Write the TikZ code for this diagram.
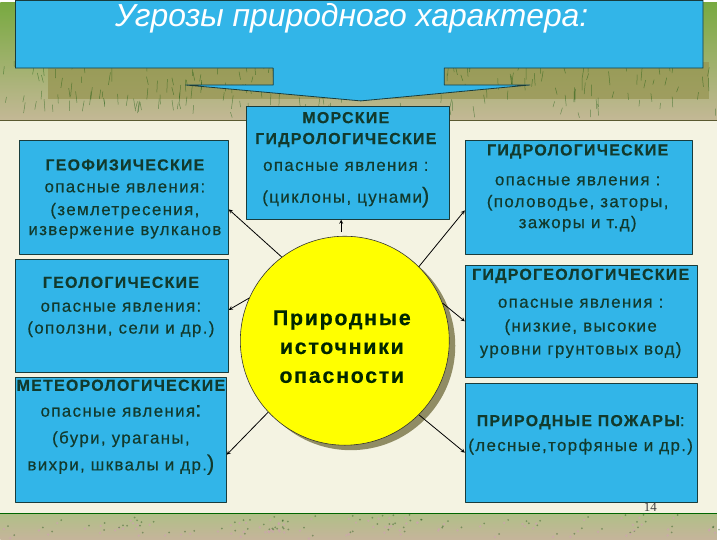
\documentclass[tikz,border=0pt]{standalone}
\usepackage{fontspec}
\setmainfont{Liberation Sans}
\newfontfamily\boxfont{Liberation Sans}[LetterSpace=8,FakeBold=0.4]
\newfontfamily\numfont{Liberation Serif}
\definecolor{boxblue}{RGB}{50,181,232}
\definecolor{boxline}{RGB}{25,60,60}
\definecolor{txtgreen}{RGB}{18,58,45}
\definecolor{cream}{RGB}{244,243,226}
\definecolor{grassdark}{RGB}{150,148,80}
\definecolor{grasslight}{RGB}{196,184,150}
\definecolor{grasspink}{RGB}{205,165,175}
\definecolor{sunyellow}{RGB}{255,255,0}
\newcommand{\capsline}[1]{{\bfseries\fontsize{16}{20}\selectfont #1}}
\newcommand{\bigsym}[1]{{\fontsize{22}{20}\selectfont #1}}
\begin{document}
\begin{tikzpicture}[x=1pt,y=-1pt,line join=round,>=stealth]
	\tikzset{box/.style={draw=boxline,fill=boxblue,line width=0.8pt,inner sep=0pt},
		txt/.style={text=txtgreen,align=center,font=\boxfont\fontsize{17}{20}\selectfont},
		arr/.style={->,line width=0.8pt,black}}
	% background: grass strips and cream panel
	\fill[cream] (0,0) rectangle (720,540);
	\shade[top color=grassdark!80!green,bottom color=grasslight] (0,0) rectangle (720,119);
	\fill[grassdark,opacity=0.7] (48,60) rectangle (712,97);
	\shade[top color=grasslight!90!green,bottom color=grasslight!80!grasspink] (0,514) rectangle (720,540);
	\pgfmathsetseed{7}
	\foreach \i in {1,...,220}{
		\pgfmathsetmacro\gx{720*rnd}
		\pgfmathsetmacro\gy{62+54*rnd}
		\pgfmathsetmacro\gl{5+9*rnd}
		\pgfmathsetmacro\gd{4*rnd-2}
		\draw[line width=0.5pt,opacity=0.45,color=green!30!black] (\gx,\gy) -- ++(\gd,-\gl);
	}
	\foreach \i in {1,...,90}{
		\pgfmathsetmacro\gx{720*rnd}
		\pgfmathsetmacro\gy{518+21*rnd}
		\fill[grasspink,opacity=0.7] (\gx,\gy) circle (1.3pt);
		\fill[green!25!black,opacity=0.35] (\gx+4,\gy-3) circle (1pt);
	}
	\draw[grassdark!60!black,line width=1pt] (0,119) -- (720,119);
	\draw[green!40!black,line width=1pt] (0,514) -- (720,514);
	% title callout
	\draw[fill=boxblue,draw=boxline,line width=0.8pt] (15,-2) -- (706,-2) -- (706,66) -- (446,66) -- (446,83) -- (532,83) -- (362,99) -- (186,83) -- (274,83) -- (274,66) -- (15,66) -- cycle;
	\node[text=white,font=\itshape\fontsize{32}{32}\selectfont] (title) at (353,16) {Угрозы природного характера:};
	% boxes
	\node[box,minimum width=210pt,minimum height=114pt] (geofiz) at (124,196) {};
	\node[box,minimum width=214pt,minimum height=114pt] (geolog) at (122,315) {};
	\node[box,minimum width=212pt,minimum height=125pt] (meteo) at (121,439.5) {};
	\node[box,minimum width=204pt,minimum height=113pt] (morsk) at (349,161.5) {};
	\node[box,minimum width=228pt,minimum height=114pt] (gidro) at (581,196) {};
	\node[box,minimum width=233pt,minimum height=113pt] (gidrogeo) at (583.5,320.5) {};
	\node[box,minimum width=233pt,minimum height=119pt] (pozhar) at (583.5,442.5) {};
	\node[txt] (geofiz-t) at (125,197.5) {\capsline{ГЕОФИЗИЧЕСКИЕ}\\[2pt] опасные явления:\\[3pt] (землетресения,\\ извержение вулканов};
	\node[txt] (geolog-t) at (121,306) {\capsline{ГЕОЛОГИЧЕСКИЕ}\\[4pt] опасные явления:\\[2pt] (оползни, сели и др.)};
	\node[txt] (meteo-t) at (121,427) {\capsline{МЕТЕОРОЛОГИЧЕСКИЕ}\\[6pt] опасные явления\bigsym{:}\\[7pt] (бури, ураганы,\\[7pt] вихри, шквалы и др.\bigsym{)}};
	\node[txt] (morsk-t) at (347,158) {\capsline{МОРСКИЕ}\\[1pt] \capsline{ГИДРОЛОГИЧЕСКИЕ}\\[7pt] опасные явления :\\[12pt] (циклоны, цунами\bigsym{)}};
	\node[txt] (gidro-t) at (580,186.5) {\capsline{ГИДРОЛОГИЧЕСКИЕ}\\[10pt] опасные явления :\\[2pt] (половодье, заторы,\\[1pt] зажоры и т.д)};
	\node[txt] (gidrogeo-t) at (583,312.5) {\capsline{ГИДРОГЕОЛОГИЧЕСКИЕ}\\[8pt] опасные явления :\\[4pt] (низкие, высокие\\[3pt] уровни грунтовых вод)};
	\node[txt] (pozhar-t) at (583,434.5) {\capsline{ПРИРОДНЫЕ ПОЖАРЫ}:\\[5pt] (лесные,торфяные и др.)};
	% centre circle
	\fill[gray!70!olive] (352,345) circle (105);
	\node[circle,draw=black!80,fill=sunyellow,line width=0.6pt,minimum size=210pt,inner sep=0pt] (src) at (346,340) {};
	\node[font=\boxfont\bfseries\fontsize{21.5}{29}\selectfont,align=center,text=black!85!green] (src-t) at (343,346) {Природные\\ источники\\ опасности};
	% arrows
	\draw[arr] (src.127) -- ([yshift=-12pt]geofiz.east);
	\draw[arr] (src.156) -- ([yshift=6pt]geolog.east);
	\draw[arr] (src.223) -- ([yshift=-15pt]meteo.east);
	\draw[arr,shorten <=4pt] (src.92) -- (src.92 |- morsk.south);
	\draw[arr] (src.45) -- ([yshift=-13pt]gidro.west);
	\draw[arr] (src.21) -- (gidrogeo.west);
	\draw[arr] (src.-45) -- ([yshift=-10pt]pozhar.west);
	\node[font=\numfont\fontsize{13}{13}\selectfont,text=black!75] (pagenum) at (653,507) {14};
\end{tikzpicture}
\end{document}
